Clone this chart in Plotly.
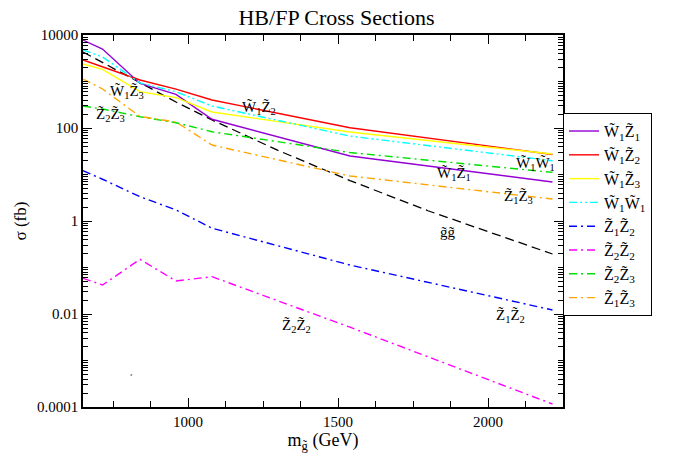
import plotly.graph_objects as go
import numpy as np

# ---- data ----
mg = [650, 715, 840, 960, 1080, 1540, 2215]
w1z1 = [7800, 5000, 910, 530, 154, 25, 6.9]
w1z2 = [2900, 2080, 1077, 687, 400, 101, 27]
w1z3 = [2380, 1830, 604, 449, 221, 82, 27.5]
w1w1 = [4760, 3370, 930, 604, 297, 67, 19.8]
z1z2 = [12.1, 7.9, 3.33, 1.73, 0.70, 0.113, 0.0122]
z2z2 = [0.0586, 0.042, 0.15, 0.0513, 0.0634, 0.0052, 0.000116]
z2z3 = [297, 256, 175, 130, 83, 29.7, 11.1]
z1z3 = [1130, 690, 177, 134.6, 43, 9.3, 2.97]
mg_gg = [650, 715, 840, 960, 1080, 1300, 1540, 1800, 2215]
gg = [4300, 2560, 930, 362, 149, 33, 7.4, 1.66, 0.195]
stray_m = [811]
stray_s = [0.00049]

labels = ["W̃<sub>1</sub>Z̃<sub>1</sub>", "W̃<sub>1</sub>Z̃<sub>2</sub>",
          "W̃<sub>1</sub>Z̃<sub>3</sub>", "W̃<sub>1</sub>W̃<sub>1</sub>",
          "Z̃<sub>1</sub>Z̃<sub>2</sub>", "Z̃<sub>2</sub>Z̃<sub>2</sub>",
          "Z̃<sub>2</sub>Z̃<sub>3</sub>", "Z̃<sub>1</sub>Z̃<sub>3</sub>"]
series = [w1z1, w1z2, w1z3, w1w1, z1z2, z2z2, z2z3, z1z3]
colors = ["#9400d3", "#ff0000", "#ffff00", "#00ffff", "#0000ff", "#ff00ff", "#00e000", "#ffa500"]
dashes = ["solid", "solid", "solid", "8px,3px,2px,3px,2px,3px",
          "8px,4px,2px,4px", "8px,4px,2px,4px", "8px,4px,2px,4px", "8px,4px,2px,4px"]

# in-plot labels (m, log10 sigma)
ann_text = ["W̃<sub>1</sub>Z̃<sub>3</sub>", "Z̃<sub>2</sub>Z̃<sub>3</sub>", "W̃<sub>1</sub>Z̃<sub>2</sub>",
            "W̃<sub>1</sub>W̃<sub>1</sub>", "W̃<sub>1</sub>Z̃<sub>1</sub>", "Z̃<sub>1</sub>Z̃<sub>3</sub>",
            "g̃g̃", "Z̃<sub>1</sub>Z̃<sub>2</sub>", "Z̃<sub>2</sub>Z̃<sub>2</sub>"]
ann_m = [798, 742, 1238, 2158, 1888, 2101, 1868, 2075, 1361]
ann_logs = [2.774, 2.28, 2.43, 1.226, 1.01, 0.516, -0.237, -2.043, -2.258]

FONT = "Liberation Serif"

fig = go.Figure()
fig.add_trace(go.Scatter(x=mg_gg, y=gg, mode="lines", showlegend=False,
                         line=dict(color="black", width=1.3, dash="9px,5px")))
for lab, s, c, d in zip(labels, series, colors, dashes):
    fig.add_trace(go.Scatter(x=mg, y=s, mode="lines", name=lab,
                             line=dict(color=c, width=1.4, dash=d)))
fig.add_trace(go.Scatter(x=stray_m, y=stray_s, mode="markers", showlegend=False,
                         marker=dict(color="#888888", size=2)))

for t, m, l in zip(ann_text, ann_m, ann_logs):
    fig.add_annotation(x=m, y=l, text=t, showarrow=False, xref="x", yref="y",
                       font=dict(family=FONT, size=15, color="black"))

ymaj = [1e-4, 1e-2, 1, 1e2, 1e4]
ymin = [k * 10.0 ** e for e in range(-4, 4) for k in range(1, 10) if not (k == 1 and e % 2 == 0)]

axis_common = dict(showline=True, linecolor="black", linewidth=1.5, mirror="ticks",
                   ticks="inside", tickcolor="black", showgrid=False, zeroline=False,
                   tickfont=dict(family=FONT, size=15, color="black"))

fig.update_xaxes(range=[650, 2250], tickvals=[1000, 1500, 2000], ticklen=9, tickwidth=1.2,
                 minor=dict(tickvals=[750, 875, 1125, 1250, 1375, 1625, 1750, 1875, 2125],
                            ticklen=6, ticks="inside", tickcolor="black", tickwidth=1),
                 title=dict(text="m<sub>g̃</sub> (GeV)", font=dict(family=FONT, size=18, color="black"),
                            standoff=2),
                 **axis_common)
fig.update_yaxes(type="log", range=[-4, 4], tickvals=ymaj,
                 ticktext=["0.0001", "0.01", "1", "100", "10000"], ticklen=9, tickwidth=1.2,
                 minor=dict(tickvals=ymin, ticklen=5, ticks="inside", tickcolor="black", tickwidth=1),
                 title=dict(text="σ (fb)", font=dict(family=FONT, size=17, color="black"), standoff=6),
                 **axis_common)

fig.update_layout(
    width=673, height=456,
    margin=dict(l=83, r=110, t=35, b=49),
    paper_bgcolor="white", plot_bgcolor="white",
    title=dict(text="HB/FP Cross Sections", x=0.5, xanchor="center", y=0.962, yanchor="middle",
               font=dict(family=FONT, size=22, color="black")),
    legend=dict(x=1.0, xanchor="left", y=0.79, yanchor="top",
                bordercolor="black", borderwidth=1, bgcolor="white",
                font=dict(family=FONT, size=16, color="black"),
                tracegroupgap=0, itemwidth=30),
    showlegend=True,
)

fig.write_html("out.html")
